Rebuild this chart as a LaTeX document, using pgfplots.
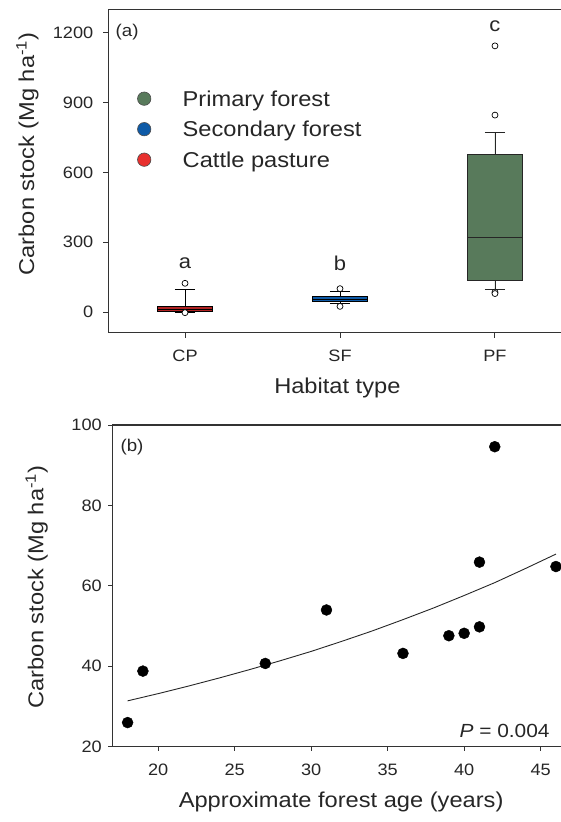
\documentclass[border=0pt]{standalone}
\usepackage{fontspec}
\setmainfont{Liberation Sans}[FakeStretch=1.1]
\usepackage{pgfplots}
\pgfplotsset{compat=1.18}
\usepgfplotslibrary{statistics}

\definecolor{pfgreen}{HTML}{587A5B}
\definecolor{sfblue}{HTML}{0E5AA7}
\definecolor{cpred}{HTML}{E8302E}
\definecolor{cpbox}{HTML}{B02222}
\definecolor{txt}{HTML}{262626}
\definecolor{axl}{HTML}{333333}

\newcommand{\labfont}{\fontsize{21.5}{24}\selectfont}
\newcommand{\tickfont}{\fontsize{16.5}{19}\selectfont}

\pgfplotsset{
  panel/.style={
    scale only axis,
    axis x line*=bottom, axis y line*=left,
    x axis line style={-, line width=1.2pt, color=axl},
    y axis line style={-, line width=1.2pt, color=axl},
    tick align=outside,
    tick style={line width=1pt, color=axl},
    major tick length=5pt,
    /pgf/number format/assume math mode=true,
    /pgf/number format/1000 sep={},
    ticklabel style={font=\tickfont, text=txt},
    label style={font=\labfont, text=txt},
    clip=false,
  },
}

\begin{document}
\begin{tikzpicture}[x=1pt,y=1pt]
\useasboundingbox (0,0) rectangle (561,822);

\begin{scope}[overlay]
% (a) carbon stock by habitat type
\begin{axis}[panel,
  width=452.7pt, height=323.4pt,
  at={(108.3pt,489.3pt)}, anchor=south west,
  xmin=0.505, xmax=3.426, ymin=-88, ymax=1300,
  xtick={1,2,3}, xticklabels={CP,SF,PF},
  ytick={0,300,600,900,1200},
  xticklabel style={yshift=-9pt},
  yticklabel style={xshift=-6.5pt},
  xlabel={Habitat type},
  ylabel={Carbon stock (Mg ha\textsuperscript{-1})},
  xlabel style={at={(axis description cs:0.506,-0.171)}, anchor=center},
  ylabel style={at={(axis description cs:-0.1785,0.5526)}, anchor=center},
  boxplot/draw direction=y,
  legend style={draw=none, fill=none, inner sep=0pt,
    at={(0.0641,0.7474)}, anchor=north west,
    font=\labfont, text=txt, row sep=11.5pt, column sep=0pt,
    nodes={inner sep=0pt, text height=15pt, text depth=4pt, anchor=base west}},
  legend cell align=left,
  legend image code/.code={%
    \draw[#1] plot coordinates {(0pt,7.5pt)};
    \path[draw=none, fill=none] (-6.7pt,0pt) rectangle (38.5pt,0.1pt);},
]
\draw[line width=1.2pt, color=axl] (rel axis cs:0,1) -- (rel axis cs:1,1);

\addlegendimage{only marks, mark=*, mark size=6.7pt, mark options={fill=pfgreen, draw=black!70, line width=0.6pt}}
\addlegendentry{Primary forest}
\addlegendimage{only marks, mark=*, mark size=6.7pt, mark options={fill=sfblue, draw=black!70, line width=0.6pt}}
\addlegendentry{Secondary forest}
\addlegendimage{only marks, mark=*, mark size=6.7pt, mark options={fill=cpred, draw=black!70, line width=0.6pt}}
\addlegendentry{Cattle pasture}

% cattle pasture
\addplot[boxplot prepared={draw position=1, lower whisker=0, lower quartile=3,
    median=10, upper quartile=23, upper whisker=98,
    box extend=0.36, whisker extend=0.13},
  fill=cpbox, draw=black, line width=0.9pt,
  mark=*, mark size=3pt, mark options={fill=white, draw=black, line width=0.7pt},
  forget plot]
  table[row sep=\\, y index=0] {124\\ -2\\};
% secondary forest
\addplot[boxplot prepared={draw position=2, lower whisker=36, lower quartile=44,
    median=55, upper quartile=67, upper whisker=90,
    box extend=0.36, whisker extend=0.13},
  fill=sfblue, draw=black, line width=0.9pt,
  mark=*, mark size=3pt, mark options={fill=white, draw=black, line width=0.7pt},
  forget plot]
  table[row sep=\\, y index=0] {101\\ 25\\};
% primary forest
\addplot[boxplot prepared={draw position=3, lower whisker=97, lower quartile=135,
    median=321, upper quartile=678, upper whisker=771,
    box extend=0.36, whisker extend=0.13},
  fill=pfgreen, draw=black!85, line width=0.9pt,
  mark=*, mark size=3pt, mark options={fill=white, draw=black, line width=0.7pt},
  forget plot]
  table[row sep=\\, y index=0] {1143\\ 846\\ 86\\ 80\\};

\node[font=\fontsize{20}{22}\selectfont, text=txt] at (axis cs:1,211) {a};
\node[font=\fontsize{20}{22}\selectfont, text=txt] at (axis cs:2,211) {b};
\node[font=\fontsize{20}{22}\selectfont, text=txt] at (axis cs:3,1227) {c};
\node[font=\fontsize{17}{19}\selectfont, text=txt, anchor=west, inner sep=0pt]
  at (rel axis cs:0.016,0.93) {(a)};
\end{axis}

% (b) carbon stock against forest age
\begin{axis}[panel,
  width=448.7pt, height=321.7pt,
  at={(112.3pt,75.3pt)}, anchor=south west,
  xmin=17, xmax=46.33, ymin=20, ymax=100,
  xtick={20,25,30,35,40,45},
  ytick={20,40,60,80,100},
  major tick length=4pt,
  xticklabel style={yshift=-10pt},
  yticklabel style={xshift=-3pt},
  xlabel={Approximate forest age (years)},
  ylabel={Carbon stock (Mg ha\textsuperscript{-1})},
  xlabel style={at={(axis description cs:0.510,-0.171)}, anchor=center},
  ylabel style={at={(axis description cs:-0.1685,0.4964)}, anchor=center},
]
\draw[line width=1.2pt, color=axl] (rel axis cs:0,1) -- (rel axis cs:1,1);

% fitted curve
\addplot[black!85, line width=0.9pt] coordinates {
  (18,31.4) (20,33.2) (22,35.1) (24,37.1) (26,39.2) (28,41.4) (30,43.7)
  (32,46.2) (34,48.8) (36,51.6) (38,54.5) (40,57.6) (42,60.8) (44,64.3) (46,67.9)};

% plots
\addplot[only marks, mark=*, mark size=5.5pt, black] coordinates {
  (18,26.0) (19,38.8) (27,40.7) (31,54.0) (36,43.2) (39,47.6)
  (40,48.2) (41,49.8) (41,65.9) (42,94.6) (46,64.8)};

\node[font=\fontsize{19}{21}\selectfont, text=txt, anchor=east, inner sep=0pt]
  at (axis cs:45.6,23.9) {\textit{P} = 0.004};
\node[font=\fontsize{17}{19}\selectfont, text=txt, anchor=west, inner sep=0pt]
  at (rel axis cs:0.018,0.93) {(b)};
\end{axis}
\end{scope}
\end{tikzpicture}
\end{document}
